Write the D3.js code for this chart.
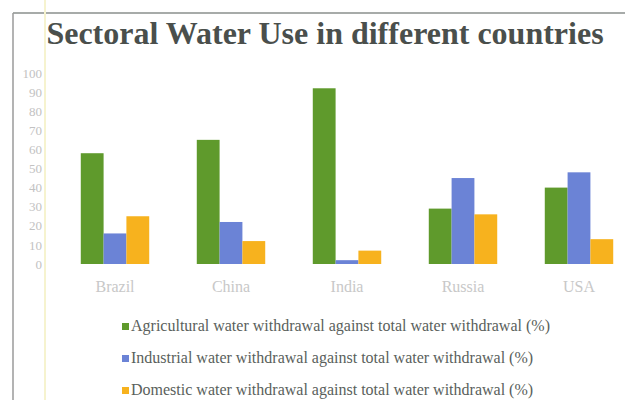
<!DOCTYPE html>
<html>
<head>
<meta charset="utf-8">
<script src="https://cdn.jsdelivr.net/npm/d3@7"></script>
<style>
  html, body { margin: 0; padding: 0; background: #fff; }
  svg { display: block; }
  svg text { font-family: "Liberation Serif", "Times New Roman", Tinos, "DejaVu Serif", serif; }
</style>
</head>
<body>
<svg id="chart" width="625" height="400"></svg>
<script>
// Sectoral water withdrawal shares (%) by country
const countries = ["Brazil", "China", "India", "Russia", "USA"];
const agricultural = [58, 65, 92, 29, 40];
const industrial = [16, 22, 2, 45, 48];
const domestic = [25, 12, 7, 26, 13];
const yTicks = [0, 10, 20, 30, 40, 50, 60, 70, 80, 90, 100];
const seriesNames = [
  "Agricultural water withdrawal against total water withdrawal (%)",
  "Industrial water withdrawal against total water withdrawal (%)",
  "Domestic water withdrawal against total water withdrawal (%)"
];
const seriesColors = ["#5f9a2c", "#6b83d6", "#f7b21e"];
const seriesValues = [agricultural, industrial, domestic];

const svg = d3.select("#chart");
const serif = '"Liberation Serif", "Times New Roman", Tinos, "DejaVu Serif", serif';

// Frame lines along top and left
svg.append("line").attr("x1", 13).attr("x2", 625).attr("y1", 13).attr("y2", 13)
  .attr("stroke", "#8a8f8c").attr("stroke-width", 1.5);
svg.append("line").attr("x1", 13).attr("x2", 13).attr("y1", 13).attr("y2", 400)
  .attr("stroke", "#9a9a9a").attr("stroke-width", 1.5);
// faint yellow guide at the left of the plot
svg.append("line").attr("x1", 45).attr("x2", 45).attr("y1", 0).attr("y2", 400)
  .attr("stroke", "#f6f3cf").attr("stroke-width", 2);

// Title
svg.append("text")
  .attr("x", 325).attr("y", 44)
  .attr("text-anchor", "middle")
  .style("font-family", serif)
  .attr("font-weight", "bold")
  .attr("font-size", 32)
  .attr("fill", "#4a4f4c")
  .text("Sectoral Water Use in different countries");

// Scales
const x0 = d3.scaleBand().domain(countries).range([57, 637])
  .paddingInner(0.41).paddingOuter(0.205);
const x1 = d3.scaleBand().domain(d3.range(3)).range([0, x0.bandwidth()]);
const y = d3.scaleLinear().domain([0, 100]).range([264, 73]);

// Y axis (labels only)
const yAxis = d3.axisLeft(y).tickValues(yTicks).tickSize(0).tickPadding(0);
const yg = svg.append("g").attr("transform", "translate(42,0)").call(yAxis);
yg.select(".domain").remove();
yg.attr("font-family", null);
yg.selectAll("text")
  .style("font-family", serif).attr("font-size", 13)
  .attr("fill", "#c2c2c2");

// Bars
const groups = svg.append("g").selectAll("g")
  .data(countries)
  .join("g")
  .attr("transform", d => `translate(${x0(d)},0)`);

groups.selectAll("rect")
  .data((d, i) => seriesValues.map((s, k) => ({ k, v: s[i] })))
  .join("rect")
  .attr("x", d => x1(d.k))
  .attr("width", x1.bandwidth())
  .attr("y", d => y(d.v))
  .attr("height", d => y(0) - y(d.v))
  .attr("fill", d => seriesColors[d.k]);

// X axis (category labels)
const xAxis = d3.axisBottom(x0).tickSize(0).tickPadding(0);
const xg = svg.append("g").attr("transform", "translate(0,281)").call(xAxis);
xg.select(".domain").remove();
xg.attr("font-family", null);
xg.selectAll("text")
  .style("font-family", serif).attr("font-size", 16)
  .attr("fill", "#c8c8c8");

// Legend
const legend = svg.append("g").selectAll("g")
  .data(seriesNames)
  .join("g")
  .attr("transform", (d, i) => `translate(122,${331 + i * 32})`);
legend.append("rect")
  .attr("x", 0).attr("y", -8).attr("width", 7).attr("height", 7)
  .attr("fill", (d, i) => seriesColors[i]);
legend.append("text")
  .attr("x", 9).attr("y", 0)
  .style("font-family", serif).attr("font-size", 16)
  .attr("fill", "#5a5f5c")
  .text(d => d);
</script>
</body>
</html>
